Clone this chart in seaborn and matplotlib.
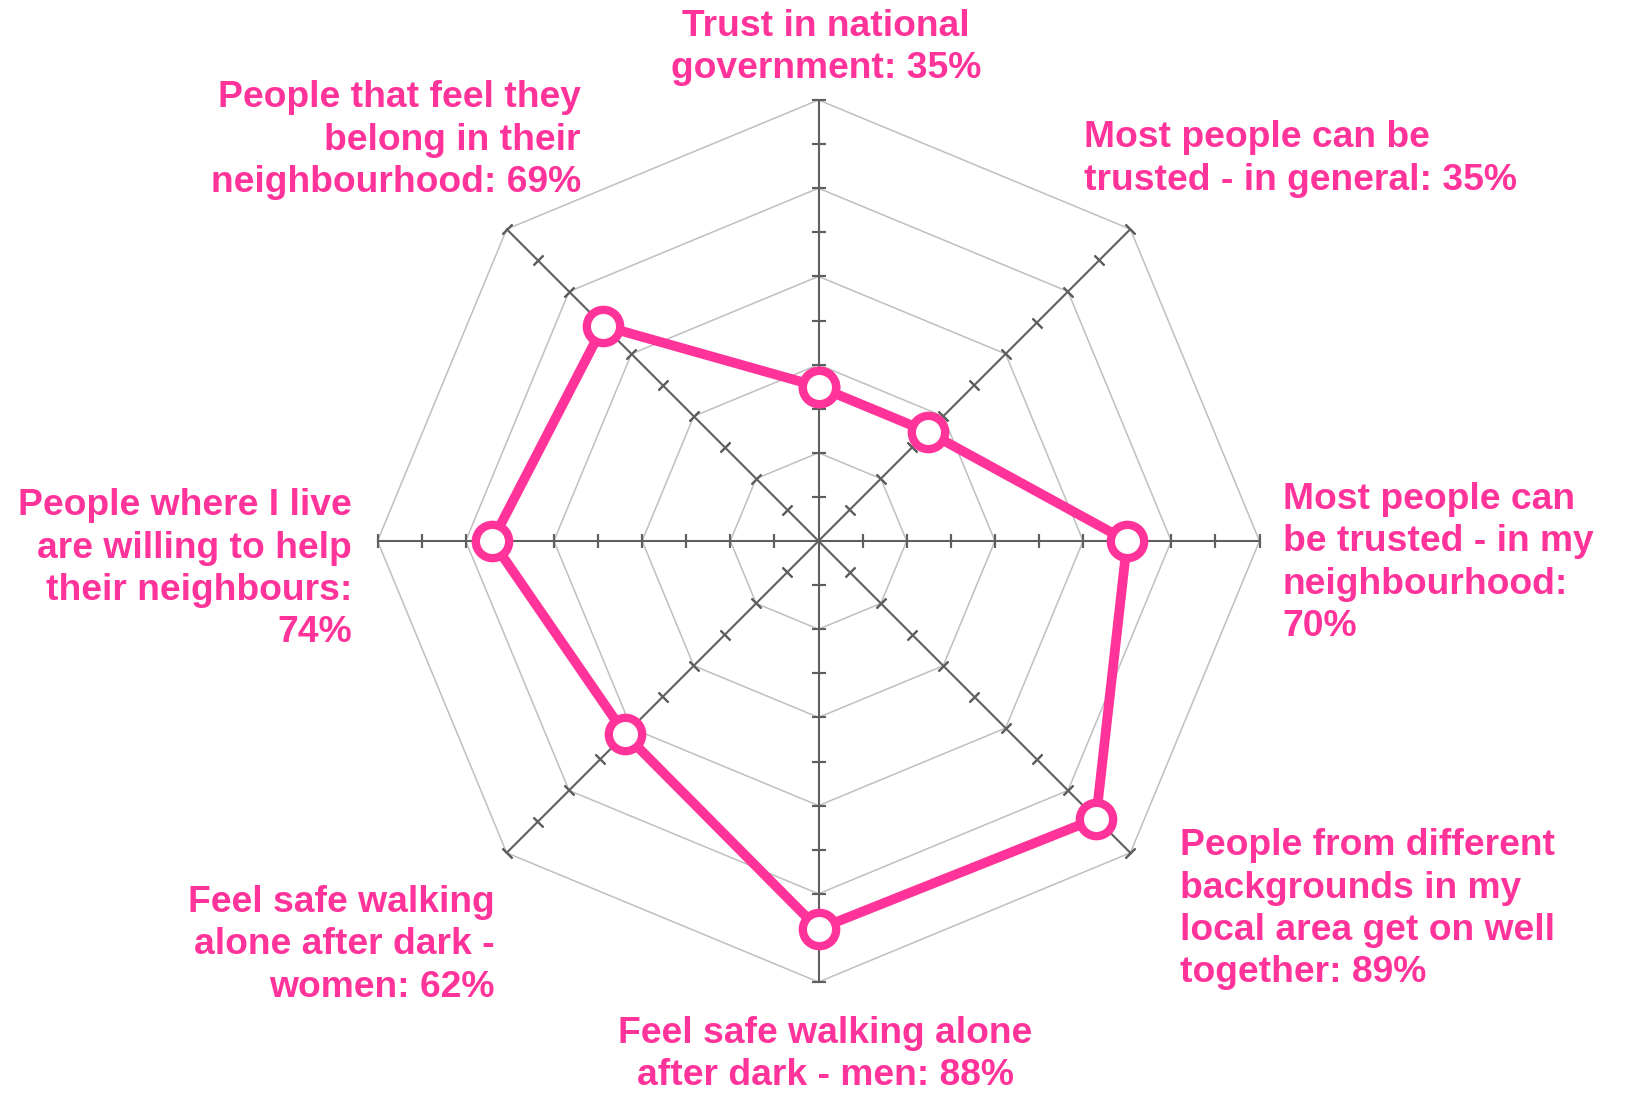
import numpy as np
import pandas as pd
import matplotlib
matplotlib.use("Agg")
import matplotlib.pyplot as plt
import seaborn as sns

# Radar chart of social trust / safety measures

categories = [
    "Trust in national\ngovernment: 35%",
    "Most people can be\ntrusted - in general: 35%",
    "Most people can\nbe trusted - in my\nneighbourhood:\n70%",
    "People from different\nbackgrounds in my\nlocal area get on well\ntogether: 89%",
    "Feel safe walking alone\nafter dark - men: 88%",
    "Feel safe walking\nalone after dark -\nwomen: 62%",
    "People where I live\nare willing to help\ntheir neighbours:\n74%",
    "People that feel they\nbelong in their\nneighbourhood: 69%",
]
values = [35, 35, 70, 89, 88, 62, 74, 69]
rings = [20, 40, 60, 80, 100]
minor_ticks = [10, 20, 30, 40, 50, 60, 70, 80, 90, 100]

# label placement (data units, same scale as the radius)
label_pos = [(1.7, 111.9), (60.2, 86.6), (105.3, -5.0), (82.0, -83.5),
             (1.5, -116.4), (-73.4, -91.6), (-105.8, -6.4), (-53.9, 90.9)]
label_ha = ["center", "left", "left", "left", "center", "right", "right", "right"]

pink = "#FF3399"
grid_col = "#BFBFBF"
spoke_col = "#5F5F5F"

sns.set_style("white")
plt.rcParams["font.family"] = ["Liberation Sans", "DejaVu Sans"]

fig = plt.figure(figsize=(16.25, 10.94), dpi=100)
ax = fig.add_axes([0, 0, 1, 1])

n = len(values)
theta = np.deg2rad(np.arange(n) * 360 / n)  # clockwise from top
sx, sy = np.sin(theta), np.cos(theta)

# octagon grid
for r in rings:
    ax.plot(np.append(sx, sx[0]) * r, np.append(sy, sy[0]) * r,
            color=grid_col, lw=1.1, zorder=1)

# spokes with ticks
for k in range(n):
    ax.plot([0, sx[k] * 100], [0, sy[k] * 100], color=spoke_col, lw=1.5, zorder=2)
    ang = 90 - np.rad2deg(theta[k])
    ax.plot(sx[k] * np.array(minor_ticks), sy[k] * np.array(minor_ticks),
            ls="none", marker=(2, 2, ang), markersize=10,
            markeredgewidth=1.5, color=spoke_col, zorder=2)

# data polygon
v = np.array(values, dtype=float)
df = pd.DataFrame({
    "x": np.append(sx * v, sx[0] * v[0]),
    "y": np.append(sy * v, sy[0] * v[0]),
})
sns.lineplot(data=df, x="x", y="y", sort=False, estimator=None, ax=ax,
             color=pink, lw=7, marker="o", markersize=24,
             markerfacecolor="white", markeredgecolor=pink,
             markeredgewidth=6, zorder=3)

for lab, (lx, ly), ha in zip(categories, label_pos, label_ha):
    ax.text(lx, ly, lab, ha=ha, va="center", color=pink, fontsize=26.8,
            fontweight="bold", linespacing=1.27)

ax.set_xlim(-818.5 / 4.41, (1625 - 818.5) / 4.41)
ax.set_ylim(-553 / 4.41, 541 / 4.41)
ax.set_aspect("auto")
ax.axis("off")

fig.savefig("out.png", dpi=100)
